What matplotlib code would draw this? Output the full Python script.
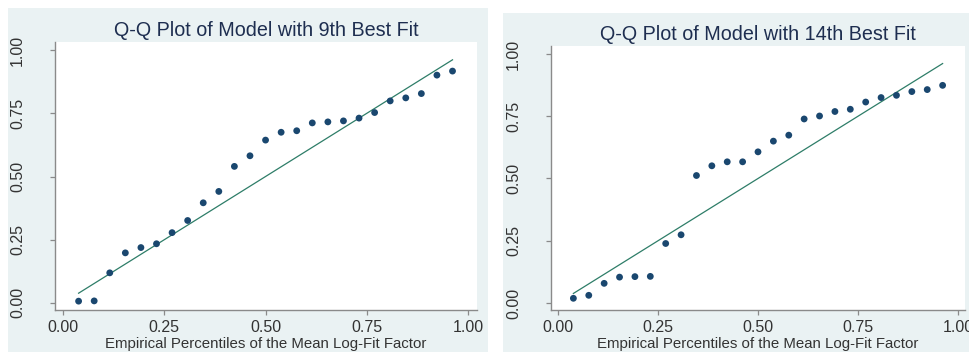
import matplotlib.pyplot as plt
from matplotlib.patches import Rectangle
import numpy as np

# 25 evenly spaced empirical percentiles
n_points = 25
percentiles = np.arange(1, n_points + 1) / (n_points + 1)

# model quantiles
fit9 = [0.007, 0.008, 0.119, 0.198, 0.219, 0.234, 0.278, 0.326, 0.396, 0.441,
        0.540, 0.582, 0.644, 0.675, 0.681, 0.712, 0.716, 0.720, 0.731, 0.753,
        0.799, 0.811, 0.828, 0.901, 0.917]
fit14 = [0.019, 0.031, 0.079, 0.104, 0.106, 0.107, 0.239, 0.274, 0.512, 0.551,
         0.567, 0.567, 0.607, 0.650, 0.674, 0.739, 0.751, 0.769, 0.778, 0.807,
         0.825, 0.834, 0.849, 0.857, 0.874]

titles = ['Q-Q Plot of Model with 9th Best Fit', 'Q-Q Plot of Model with 14th Best Fit']
xlabel = 'Empirical Percentiles of the Mean Log-Fit Factor'
ticks = [0, 0.25, 0.5, 0.75, 1.0]
tick_labels = ['0.00', '0.25', '0.50', '0.75', '1.00']

plt.rcParams['font.family'] = ['Liberation Sans', 'DejaVu Sans']

W, H = 969, 352
fig = plt.figure(figsize=(W / 100, H / 100), dpi=100)
fig.patch.set_facecolor('white')

bg = '#eaf2f3'
navy = '#1a476f'
line_col = '#2e7d68'
axis_col = '#8a8a8a'

# panel backgrounds (pixels: x0, y0_top, x1, y1_bottom)
panels = [(8, 8, 488, 352), (503, 13, 969, 352)]
for x0, y0, x1, y1 in panels:
    fig.patches.append(Rectangle((x0 / W, 1 - y1 / H), (x1 - x0) / W, (y1 - y0) / H,
                                 transform=fig.transFigure, facecolor=bg,
                                 edgecolor='none', zorder=-10))

# axes boxes in pixels and data limits
boxes = [(55, 42, 477, 310), (551, 46, 965, 310)]
xlims = [(-0.0198, 1.022), (-0.0175, 1.0175)]
ylims = [(-0.028, 1.032), (-0.028, 1.032)]

for i, (data, title) in enumerate(zip([fit9, fit14], titles)):
    x0, y0, x1, y1 = boxes[i]
    ax = fig.add_axes([x0 / W, 1 - y1 / H, (x1 - x0) / W, (y1 - y0) / H])
    ax.set_zorder(1)
    ax.set_facecolor('white')
    ax.plot([percentiles[0], percentiles[-1]], [percentiles[0], percentiles[-1]],
            color=line_col, lw=0.9, zorder=2)
    ax.scatter(percentiles, data, s=24, color=navy, edgecolors='none', zorder=3)
    ax.set_xlim(*xlims[i])
    ax.set_ylim(*ylims[i])
    ax.set_xticks(ticks)
    ax.set_xticklabels(tick_labels)
    ax.set_yticks(ticks)
    ax.set_yticklabels(tick_labels, rotation=90, va='center')
    for side in ['top', 'right']:
        ax.spines[side].set_visible(False)
    for side in ['left', 'bottom']:
        ax.spines[side].set_color(axis_col)
        ax.spines[side].set_linewidth(1.0)
    ax.tick_params(axis='both', colors=axis_col, length=3.5, width=0.9,
                   labelsize=11.5, labelcolor='#333333')
    ax.tick_params(axis='x', pad=4)
    ax.tick_params(axis='y', pad=18)
    ax.set_title(title, fontsize=14.2, color='#1e2e50', pad=4)
    ax.set_xlabel(xlabel, fontsize=10.8, color='#333333', labelpad=1)

fig.savefig('out.png', dpi=100, facecolor='white')
